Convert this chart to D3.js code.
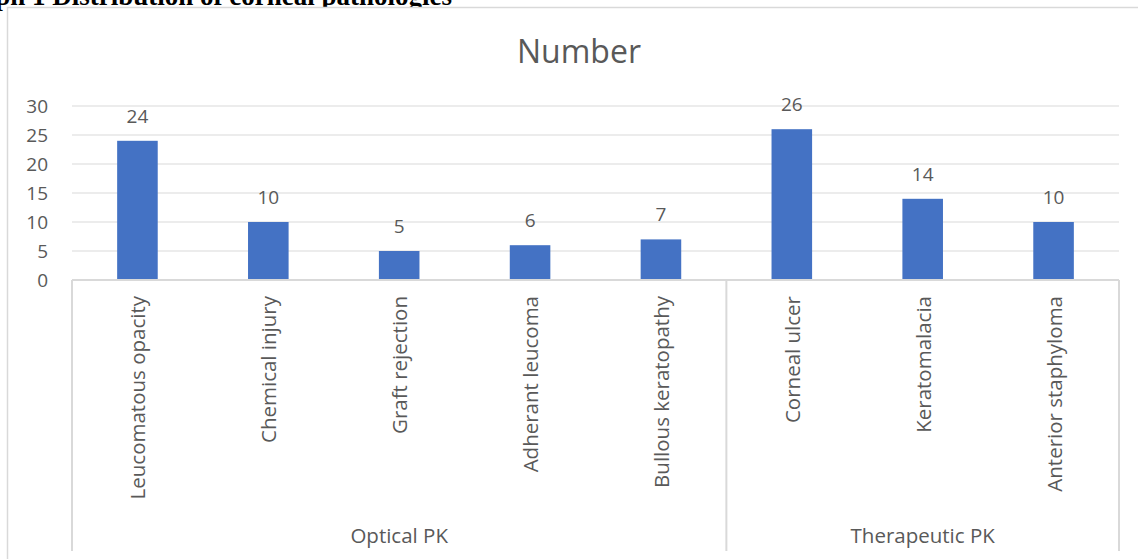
<!DOCTYPE html>
<html lang="en">
<head>
<meta charset="UTF-8">
<title>Distribution of corneal pathologies</title>
<script src="https://d3js.org/d3.v7.min.js"></script>
<style>
    body { margin: 0; background: #fff; overflow: hidden; }
    svg { display: block; }
    .lbl { font-family: "Open Sans", "Noto Sans", sans-serif; fill: #595959; }
</style>
</head>
<body>
<div id="chart"></div>
<script>
    // data
    const categories = ["Leucomatous opacity", "Chemical injury", "Graft rejection", "Adherant leucoma",
        "Bullous keratopathy", "Corneal ulcer", "Keratomalacia", "Anterior staphyloma"];
    const groups = ["Optical PK", "Optical PK", "Optical PK", "Optical PK", "Optical PK",
        "Therapeutic PK", "Therapeutic PK", "Therapeutic PK"];
    const values = [24, 10, 5, 6, 7, 26, 14, 10];
    const yTicks = [0, 5, 10, 15, 20, 25, 30];

    const width = 1138, height = 559;
    const plot = { left: 72, right: 1119, top: 106, bottom: 280 };

    const svg = d3.select("#chart").append("svg")
        .attr("width", width).attr("height", height);

    // caption from the document above the chart (cut off at the top in the source)
    svg.append("text")
        .attr("x", 452).attr("y", 5)
        .attr("text-anchor", "end")
        .attr("font-family", "Liberation Serif, serif")
        .attr("font-weight", "bold")
        .attr("font-size", 27)
        .text("Graph 1 Distribution of corneal pathologies");

    // chart frame
    svg.append("rect")
        .attr("x", 7.5).attr("y", 7.5)
        .attr("width", width + 10).attr("height", height + 10)
        .attr("fill", "#fff").attr("stroke", "#d9d9d9").attr("stroke-width", 1.5);

    const x = d3.scaleBand().domain(categories).range([plot.left, plot.right]).paddingInner(0.69).paddingOuter(0.345);
    const y = d3.scaleLinear().domain([0, 30]).range([plot.bottom, plot.top]);

    // gridlines
    svg.append("g").selectAll("line").data(yTicks.filter(d => d > 0)).join("line")
        .attr("x1", plot.left).attr("x2", plot.right)
        .attr("y1", d => y(d)).attr("y2", d => y(d))
        .attr("stroke", "#d9d9d9").attr("stroke-width", 1);

    // y tick labels
    svg.append("g").selectAll("text").data(yTicks).join("text")
        .attr("class", "lbl")
        .attr("x", 48).attr("y", d => y(d))
        .attr("dy", "0.35em")
        .attr("text-anchor", "end")
        .attr("font-size", 19)
        .text(d => d);

    // bars
    svg.append("g").selectAll("rect").data(values).join("rect")
        .attr("x", (d, i) => x(categories[i]))
        .attr("width", x.bandwidth())
        .attr("y", d => y(d))
        .attr("height", d => y(0) - y(d))
        .attr("fill", "#4472c4");

    // data labels
    svg.append("g").selectAll("text").data(values).join("text")
        .attr("class", "lbl")
        .attr("x", (d, i) => x(categories[i]) + x.bandwidth() / 2)
        .attr("y", d => y(d) - 18)
        .attr("text-anchor", "middle")
        .attr("font-size", 19)
        .text(d => d);

    // category axis with grouping
    const axis = svg.append("g").attr("stroke", "#d9d9d9").attr("stroke-width", 2);
    axis.append("line").attr("x1", plot.left).attr("x2", plot.right)
        .attr("y1", plot.bottom).attr("y2", plot.bottom);
    const gap = (x.step() - x.bandwidth()) / 2;
    const groupSpans = Array.from(new Set(groups)).map(g => {
        const idx = groups.map((v, i) => v === g ? i : -1).filter(i => i >= 0);
        const x0 = x(categories[idx[0]]) - gap;
        const x1 = x(categories[idx[idx.length - 1]]) + x.bandwidth() + gap;
        return { name: g, x0, x1 };
    });
    const bounds = [plot.left].concat(groupSpans.map(s => s.x1));
    axis.selectAll("line.sep").data(bounds).join("line")
        .attr("class", "sep")
        .attr("x1", d => d).attr("x2", d => d)
        .attr("y1", plot.bottom).attr("y2", 551);

    // rotated category labels
    svg.append("g").selectAll("text").data(categories).join("text")
        .attr("class", "lbl")
        .attr("font-size", 20.5)
        .attr("text-anchor", "end")
        .attr("transform", d => `translate(${x(d) + x.bandwidth() / 2 + 8},296) rotate(-90)`)
        .text(d => d);

    // group labels
    svg.append("g").selectAll("text").data(groupSpans).join("text")
        .attr("class", "lbl")
        .attr("font-size", 20.5)
        .attr("text-anchor", "middle")
        .attr("x", d => (d.x0 + d.x1) / 2)
        .attr("y", 543)
        .text(d => d.name);

    // chart title
    svg.append("text")
        .attr("class", "lbl")
        .attr("x", 579).attr("y", 63)
        .attr("text-anchor", "middle")
        .attr("font-size", 32)
        .text("Number");
</script>
</body>
</html>
